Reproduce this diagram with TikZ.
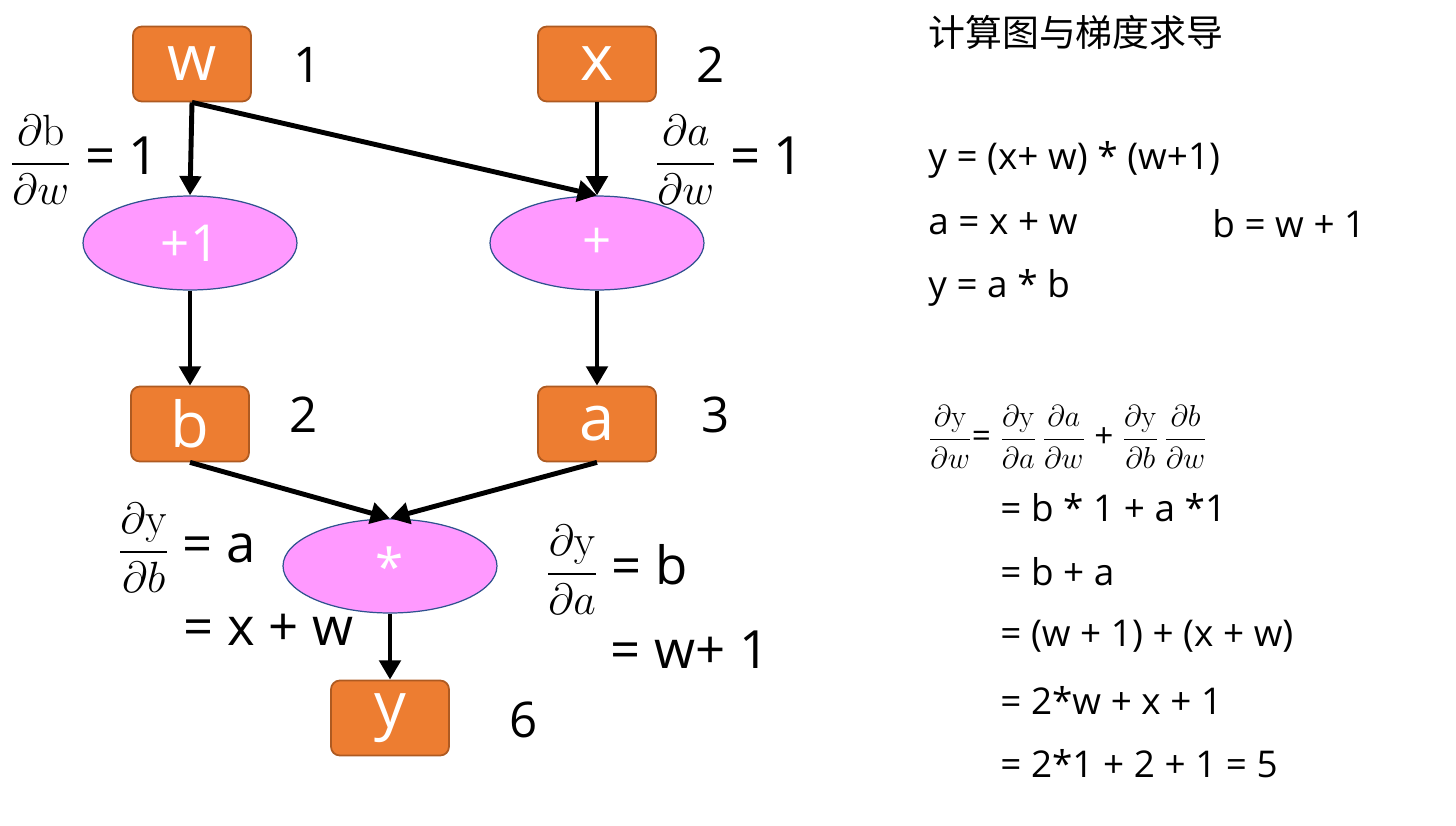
\documentclass[tikz,border=0pt]{standalone}
\usepackage{amsmath}
\usepackage[no-math]{fontspec}
\setmainfont{Open Sans}
\newfontfamily\cjk{Noto Sans CJK SC}
\usetikzlibrary{shapes.geometric,arrows.meta}
\definecolor{boxfill}{HTML}{ED7D31}
\definecolor{boxline}{HTML}{AE5A21}
\definecolor{opfill}{HTML}{FF99FF}
\definecolor{opline}{HTML}{2F528F}

\begin{document}
\begin{tikzpicture}[
            x=0.02cm, y=-0.02cm,
            var/.style={draw=boxline, fill=boxfill, line width=1pt, rounded corners=5pt,
                        minimum width=2.36cm, minimum height=1.5cm, text=white,
                        font=\fontsize{36}{40}\selectfont},
            op/.style={draw=opline, fill=opfill, line width=0.7pt, ellipse,
                       minimum width=4.28cm, minimum height=1.88cm, inner sep=0pt, text=white,
                       font=\fontsize{29}{32}\selectfont},
            num/.style={font=\fontsize{28}{32}\selectfont},
            grad/.style={anchor=west, font=\fontsize{30}{34}\selectfont, inner sep=0pt},
            txt/.style={anchor=west, font=\fontsize{21}{25}\selectfont, inner sep=0pt},
            edge/.style={line width=2.8pt, -{Triangle[length=11pt, width=12pt]}}
        ]
        \useasboundingbox (0,0) rectangle (1456,825);

        % graph
        \node[var] (w) at (192,64) {w};
        \node[var] (x) at (597,64) {x};
        \node[op] (plusone) at (190,243) {+1};
        \node[op] (plus) at (597,243) {+};
        \node[var] (b) at (190,424) {b};
        \node[var] (a) at (597,424) {a};
        \node[op] (times) at (390,566) {*};
        \node[var] (y) at (390,718) {y};

        \node[num] (vw) at (308,65) {1};
        \node[num] (vx) at (711,65) {2};
        \node[num] (vb) at (304,415) {2};
        \node[num] (va) at (716,415) {3};
        \node[num] (vy) at (524,720) {6};

        \draw[edge] (w.south) -- (plusone.north);
        \draw[edge] (w.south) -- (plus.north);
        \draw[edge] (x.south) -- (plus.north);
        \draw[edge] (plusone.south) -- (b.north);
        \draw[edge] (plus.south) -- (a.north);
        \draw[edge] (b.south) -- (times.north);
        \draw[edge] (a.south) -- (times.north);
        \draw[edge] (times.south) -- (y.north);

        % local gradients
        \node[grad] (dbdw) at (10,160) {$\dfrac{\partial\mathrm{b}}{\partial w}$ = 1};
        \node[grad] (dadw) at (655,160) {$\dfrac{\partial a}{\partial w}$ = 1};
        \node[grad] (dydb) at (118,548) {$\dfrac{\partial\mathrm{y}}{\partial b}$ = a};
        \node[grad] (dydb2) at (183,630) {= x + w};
        \node[grad] (dyda) at (546,570) {$\dfrac{\partial\mathrm{y}}{\partial a}$ = b};
        \node[grad] (dyda2) at (610,650) {= w+ 1};

        % derivation
        \node[txt] (title) at (928,32) {\cjk 计算图与梯度求导};
        \node[txt] (l1) at (928,160) {y = (x+ w) * (w+1)};
        \node[txt] (l2) at (928,224) {a = x + w};
        \node[txt] (l3) at (1212,224) {b = w + 1};
        \node[txt] (l4) at (928,288) {y = a * b};
        \node[txt, font=\fontsize{19}{22}\selectfont] (d0) at (928,437)
            {$\dfrac{\partial\mathrm{y}}{\partial w}$= $\dfrac{\partial\mathrm{y}}{\partial a}\,\dfrac{\partial a}{\partial w}$ + $\dfrac{\partial\mathrm{y}}{\partial b}\,\dfrac{\partial b}{\partial w}$};
        \node[txt] (d1) at (1000,508) {= b * 1 + a *1};
        \node[txt] (d2) at (1000,572) {= b + a};
        \node[txt] (d3) at (1000,636) {= (w + 1) + (x + w)};
        \node[txt] (d4) at (1000,700) {= 2*w + x + 1};
        \node[txt] (d5) at (1000,764) {= 2*1 + 2 + 1 = 5};
\end{tikzpicture}
\end{document}
